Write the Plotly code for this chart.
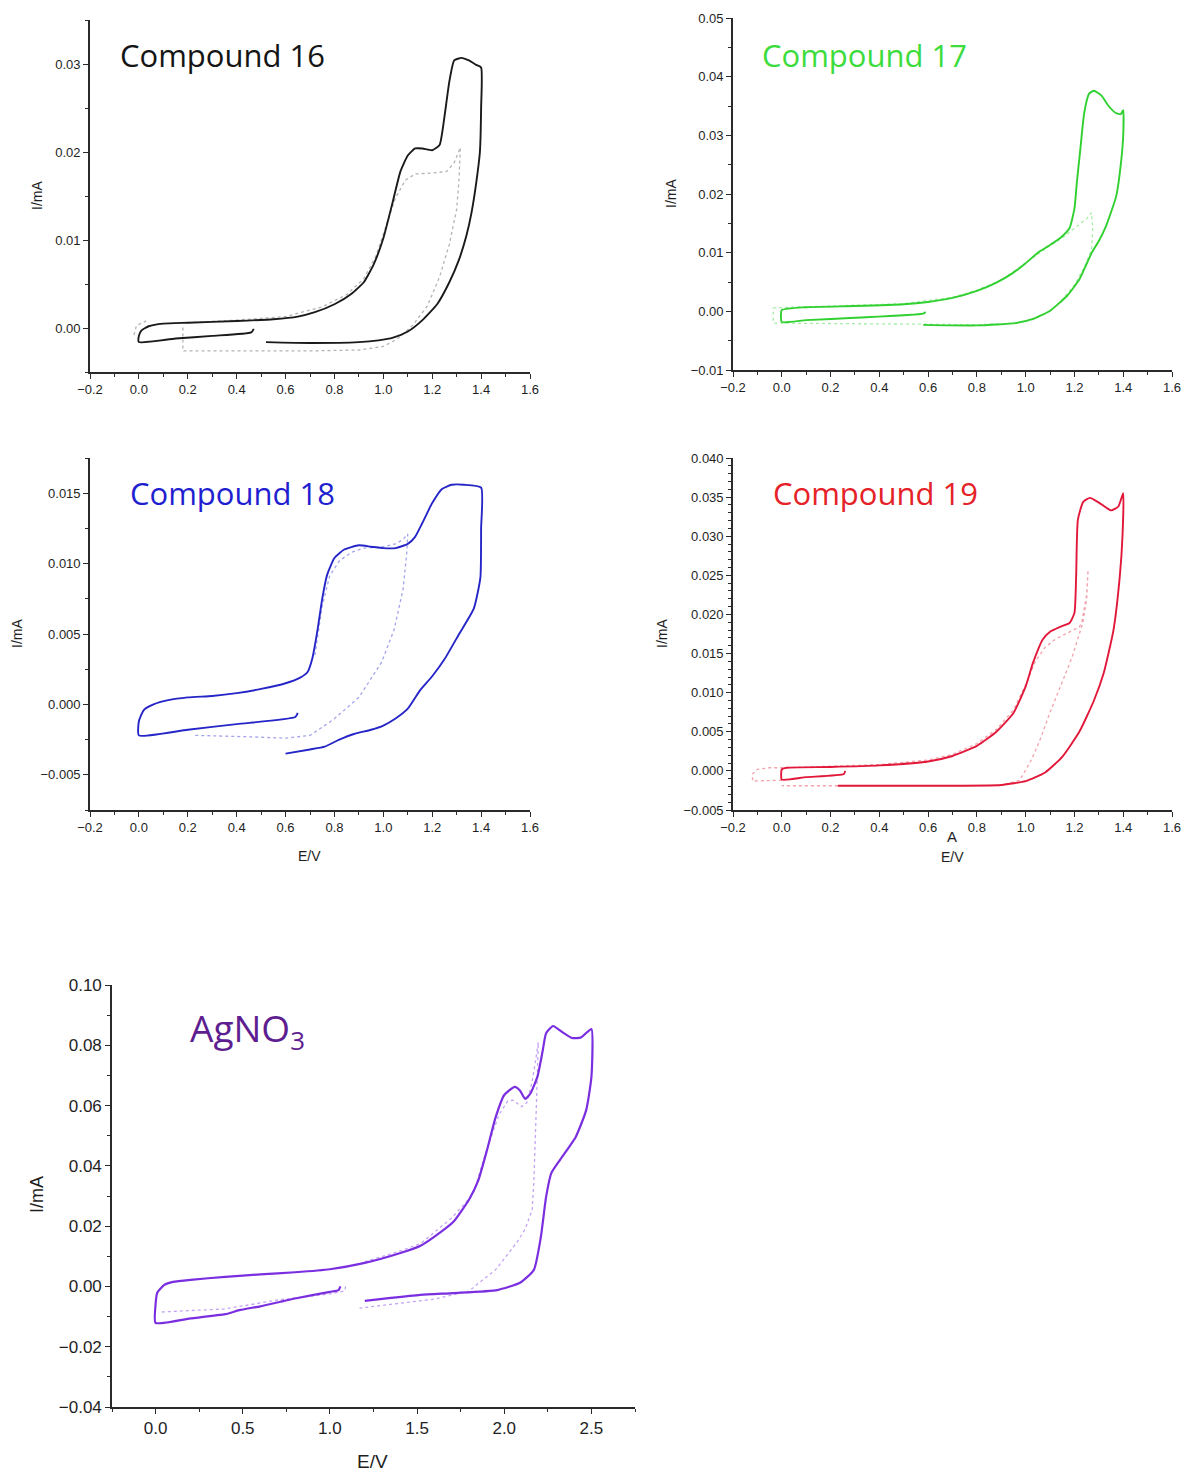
import plotly.graph_objects as go

W, H = 1185, 1472

# ---------------- data (E / V, I / mA) ----------------
# Compound 16
c16_solid_E = [0.47, 0.46, 0.3, 0.15, 0.0, 0.0, 0.01, 0.04, 0.1, 0.2, 0.4, 0.55, 0.65, 0.72, 0.8, 0.87, 0.92, 0.96, 1.0, 1.04, 1.07, 1.1, 1.13, 1.16, 1.2, 1.23, 1.25, 1.27, 1.29, 1.32, 1.35, 1.38, 1.40, 1.40, 1.395, 1.38, 1.36, 1.34, 1.31, 1.27, 1.22, 1.16, 1.1, 1.04, 0.98, 0.9, 0.7, 0.52]
c16_solid_I = [-0.0001, -0.0005, -0.0009, -0.0012, -0.0016, -0.0009, -0.0003, 0.0002, 0.0005, 0.0006, 0.0008, 0.001, 0.0013, 0.0018, 0.0027, 0.0039, 0.0052, 0.0072, 0.0102, 0.0145, 0.0178, 0.0196, 0.0204, 0.0204, 0.0202, 0.0208, 0.024, 0.028, 0.0304, 0.0307, 0.0304, 0.0299, 0.0296, 0.025, 0.02, 0.0165, 0.013, 0.0105, 0.0078, 0.0052, 0.0027, 0.0009, -0.0004, -0.0011, -0.0014, -0.0016, -0.0017, -0.0016]
c16_dot_E = [-0.02, -0.01, 0.03, None, 0.2, 0.4, 0.6, 0.75, 0.85, 0.92, 0.97, 1.01, 1.05, 1.09, 1.13, 1.2, 1.26, 1.29, 1.315, 1.31, 1.3, 1.27, 1.23, 1.18, 1.12, 1.06, 1.0, 0.9, 0.7, 0.4, 0.18, 0.18]
c16_dot_I = [-0.0008, 0.0003, 0.0008, None, 0.0006, 0.0009, 0.0013, 0.0024, 0.0038, 0.0056, 0.0082, 0.0115, 0.0148, 0.0168, 0.0175, 0.0176, 0.0178, 0.0188, 0.0205, 0.017, 0.0135, 0.0095, 0.0058, 0.0025, 0.0003, -0.0012, -0.0021, -0.0025, -0.0026, -0.0026, -0.0026, 0.0001]

# Compound 17
c17_solid_E = [0.59, 0.58, 0.3, 0.1, 0.0, 0.0, 0.1, 0.3, 0.5, 0.6, 0.7, 0.8, 0.88, 0.95, 1.0, 1.05, 1.1, 1.15, 1.18, 1.2, 1.21, 1.225, 1.24, 1.26, 1.28, 1.31, 1.34, 1.37, 1.39, 1.40, 1.40, 1.39, 1.371, 1.329, 1.3, 1.271, 1.221, 1.171, 1.1, 1.03, 0.96, 0.8, 0.58]
c17_solid_I = [-0.0001, -0.0004, -0.0011, -0.0015, -0.0018, 0.0002, 0.0007, 0.0009, 0.0012, 0.0016, 0.0023, 0.0035, 0.0049, 0.0066, 0.0082, 0.01, 0.0113, 0.0128, 0.0142, 0.0175, 0.022, 0.028, 0.0338, 0.0371, 0.0376, 0.0368, 0.035, 0.0338, 0.0336, 0.0343, 0.03, 0.025, 0.0196, 0.0145, 0.012, 0.01, 0.0055, 0.0027, 0.0001, -0.0013, -0.002, -0.0024, -0.0023]
c17_dot_E = [-0.035, 0.1, 0.3, 0.5, 0.7, 0.8, 0.9, 1.0, 1.1, 1.15, 1.2, 1.25, 1.27, 1.275, 1.27, 1.24, 1.2, 1.15, 1.1, 1.03, 0.96, 0.8, 0.6, 0.3, 0.0, -0.035, -0.035]
c17_dot_I = [0.0006, 0.0008, 0.001, 0.0013, 0.0024, 0.0036, 0.0053, 0.0083, 0.0112, 0.0125, 0.0142, 0.0158, 0.0168, 0.014, 0.0105, 0.0075, 0.0045, 0.002, 0.0, -0.0014, -0.002, -0.0023, -0.0022, -0.0021, -0.002, -0.002, 0.0006]

# Compound 18
c18_solid_E = [0.65, 0.64, 0.4, 0.2, 0.0, 0.0, 0.02, 0.06, 0.12, 0.2, 0.3, 0.4, 0.5, 0.6, 0.66, 0.69, 0.71, 0.73, 0.75, 0.77, 0.8, 0.84, 0.9, 0.95, 1.0, 1.05, 1.1, 1.13, 1.16, 1.2, 1.24, 1.28, 1.33, 1.4, 1.4, 1.397, 1.37, 1.31, 1.25, 1.2, 1.15, 1.1, 1.05, 1.0, 0.95, 0.88, 0.82, 0.76, 0.7, 0.6]
c18_solid_I = [-0.0006, -0.0009, -0.0014, -0.0018, -0.0022, -0.0012, -0.0004, 0.0, 0.0003, 0.0005, 0.0006, 0.0008, 0.0011, 0.0015, 0.0019, 0.0023, 0.0033, 0.0052, 0.0075, 0.0092, 0.0104, 0.011, 0.0113, 0.0112, 0.0111, 0.0111, 0.0114, 0.0119, 0.0129, 0.0143, 0.0153, 0.0156, 0.0156, 0.0154, 0.0125, 0.009, 0.0068, 0.005, 0.0032, 0.002, 0.001, -0.0003, -0.001, -0.0015, -0.0018, -0.0021, -0.0025, -0.003, -0.0032, -0.0035]
c18_dot_E = [0.72, 0.75, 0.78, 0.82, 0.87, 0.92, 1.0, 1.05, 1.08, 1.1, 1.096, 1.081, 1.044, 0.993, 0.9, 0.794, 0.7, 0.6, 0.45, 0.23]
c18_dot_I = [0.0035, 0.007, 0.0091, 0.0102, 0.0108, 0.0111, 0.0112, 0.0114, 0.0117, 0.0121, 0.0108, 0.0082, 0.0053, 0.003, 0.0005, -0.0011, -0.0022, -0.0024, -0.0023, -0.0022]

# Compound 19
c19_solid_E = [0.26, 0.255, 0.1, 0.0, 0.0, 0.02, 0.2, 0.4, 0.6, 0.7, 0.8, 0.88, 0.95, 1.0, 1.03, 1.07, 1.1, 1.14, 1.18, 1.2, 1.207, 1.214, 1.236, 1.264, 1.3, 1.35, 1.38, 1.40, 1.397, 1.386, 1.36, 1.32, 1.28, 1.22, 1.15, 1.08, 1.0, 0.9, 0.6, 0.23]
c19_solid_I = [0.0, -0.0004, -0.0008, -0.0011, 0.0002, 0.0004, 0.0005, 0.0007, 0.0012, 0.0019, 0.0032, 0.005, 0.0074, 0.0108, 0.0138, 0.0168, 0.0178, 0.0184, 0.0189, 0.0202, 0.0249, 0.0321, 0.0344, 0.0349, 0.0343, 0.0333, 0.0338, 0.0355, 0.030, 0.0249, 0.018, 0.0125, 0.009, 0.005, 0.0018, -0.0002, -0.0013, -0.0018, -0.0019, -0.0019]
c19_dot_E = [0.23, 0.0, None, 0.0, -0.12, -0.12, -0.1, -0.05, 0.0, 0.2, 0.4, 0.6, 0.7, 0.8, 0.88, 0.95, 1.0, 1.04, 1.08, 1.12, 1.17, 1.22, 1.23, 1.25, 1.256, 1.25, 1.235, 1.22, 1.19, 1.153, 1.1, 1.058, 1.02, 0.976, 0.9]
c19_dot_I = [-0.0019, -0.0019, None, -0.0012, -0.0013, -0.0004, 0.0002, 0.0004, 0.0004, 0.0006, 0.0008, 0.0014, 0.0021, 0.0035, 0.0053, 0.0078, 0.011, 0.014, 0.0158, 0.0168, 0.0176, 0.0184, 0.019, 0.0225, 0.0257, 0.022, 0.019, 0.0175, 0.0145, 0.0116, 0.0075, 0.0039, 0.0012, -0.0012, -0.0018]

# AgNO3
ag_solid_E = [1.06, 1.05, 1.0, 0.8, 0.715, 0.6, 0.486, 0.4, 0.2, 0.0, 0.0, 0.01, 0.05, 0.1, 0.2, 0.4, 0.6, 0.8, 1.0, 1.2, 1.4, 1.52, 1.6, 1.71, 1.8, 1.85, 1.9, 1.95, 2.0, 2.06, 2.09, 2.12, 2.15, 2.19, 2.22, 2.24, 2.28, 2.33, 2.39, 2.44, 2.5, 2.5, 2.47, 2.41, 2.32, 2.27, 2.24, 2.21, 2.17, 2.09, 1.96, 1.71, 1.52, 1.35, 1.2]
ag_solid_I = [0.0, -0.0012, -0.0018, -0.004, -0.0051, -0.0066, -0.0078, -0.0092, -0.0106, -0.0121, -0.006, -0.002, 0.0005, 0.0015, 0.0022, 0.0032, 0.004, 0.0047, 0.0057, 0.0078, 0.011, 0.0135, 0.0165, 0.0215, 0.029, 0.035, 0.045, 0.056, 0.0635, 0.0662, 0.065, 0.0622, 0.064, 0.0695, 0.078, 0.084, 0.0864, 0.0845, 0.0824, 0.0826, 0.0854, 0.0695, 0.0585, 0.0496, 0.042, 0.0376, 0.0297, 0.0164, 0.0055, 0.0012, -0.0012, -0.0022, -0.0028, -0.0038, -0.0048]
ag_dot_E = [1.09, 1.085, 1.0, 0.8, 0.7, 0.55, 0.39, 0.2, 0.03, None, 1.2, 1.4, 1.52, 1.7, 1.82, 1.9, 1.97, 2.02, 2.05, 2.1, 2.13, 2.16, 2.18, 2.195, 2.19, 2.18, 2.17, 2.16, 2.12, 2.07, 2.01, 1.95, 1.84, 1.8, 1.6, 1.4, 1.17]
ag_dot_I = [0.0, -0.0015, -0.0025, -0.0038, -0.0045, -0.006, -0.0075, -0.008, -0.0085, None, 0.0082, 0.0117, 0.0142, 0.0228, 0.0305, 0.0455, 0.057, 0.0615, 0.0618, 0.0596, 0.061, 0.068, 0.075, 0.081, 0.07, 0.05, 0.035, 0.0254, 0.019, 0.0144, 0.0098, 0.0055, 0.0005, -0.0015, -0.0042, -0.0055, -0.0072]

titles = ["Compound 16", "Compound 17", "Compound 18", "Compound 19", "AgNO<sub>3</sub>"]
title_colors = ["#151515", "#3ddc3d", "#1f1fd0", "#e52228", "#5e1e90"]
solid_colors = ["#1a1a1a", "#2fd02f", "#2626c8", "#e2183a", "#7a2ee0"]
dot_colors = ["#b4b4b4", "#a6eea6", "#a4a4ec", "#f2a2ac", "#c4a4f2"]

# ---------------- layout geometry (pixels) ----------------
# (x_left, x_right, y_top, y_bottom)
boxes = [(90, 530, 20, 372), (733, 1172, 18, 370), (90, 530, 458, 810),
         (733, 1172, 458, 810), (112, 635, 985, 1407)]
xranges = [[-0.2, 1.6]] * 4 + [[-0.25, 2.75]]
yranges = [[-0.005, 0.035], [-0.01, 0.05], [-0.0075, 0.0175], [-0.005, 0.040], [-0.04, 0.10]]
ydticks = [0.01, 0.01, 0.005, 0.005, 0.02]
yminor = [0.005, 0.005, 0.0025, 0.001, 0.01]
yfmt = [".2f", ".2f", ".3f", ".3f", ".2f"]
xdticks = [0.2] * 4 + [0.5]
xminor = [0.1] * 4 + [0.25]

series = [
    (c16_solid_E, c16_solid_I, c16_dot_E, c16_dot_I),
    (c17_solid_E, c17_solid_I, c17_dot_E, c17_dot_I),
    (c18_solid_E, c18_solid_I, c18_dot_E, c18_dot_I),
    (c19_solid_E, c19_solid_I, c19_dot_E, c19_dot_I),
    (ag_solid_E, ag_solid_I, ag_dot_E, ag_dot_I),
]

fig = go.Figure()
axis_color = "#2a2a2a"

for i, (sE, sI, dE, dI) in enumerate(series):
    n = "" if i == 0 else str(i + 1)
    xa, ya = "x" + n, "y" + n
    big = i == 4
    fig.add_trace(go.Scatter(x=dE, y=dI, xaxis=xa, yaxis=ya, mode="lines",
                             line=dict(color=dot_colors[i], width=1.3, dash="dot"),
                             showlegend=False, connectgaps=False))
    fig.add_trace(go.Scatter(x=sE, y=sI, xaxis=xa, yaxis=ya, mode="lines",
                             line=dict(color=solid_colors[i], width=2.2 if big else 1.9,
                                       shape="spline", smoothing=0.5),
                             showlegend=False))
    x0, x1, yt, yb = boxes[i]
    tickfont = dict(family="Liberation Sans, Arial", size=17 if big else 13, color="#1e1e1e")
    xaxis = dict(domain=[x0 / W, x1 / W], range=xranges[i], anchor=ya, automargin=False,
                 showline=True, linecolor=axis_color, linewidth=1.6,
                 showgrid=False, zeroline=False, ticks="outside", ticklen=5,
                 tickwidth=1.3, tickcolor=axis_color, dtick=xdticks[i], tick0=0,
                 tickformat=".1f", tickfont=tickfont,
                 minor=dict(ticks="outside", ticklen=3, dtick=xminor[i], tick0=0,
                            tickcolor=axis_color, showgrid=False))
    yaxis = dict(domain=[1 - yb / H, 1 - yt / H], range=yranges[i], anchor=xa, automargin=False,
                 showline=True, linecolor=axis_color, linewidth=1.6,
                 showgrid=False, zeroline=False, ticks="outside", ticklen=5,
                 tickwidth=1.3, tickcolor=axis_color, dtick=ydticks[i], tick0=0,
                 tickformat=yfmt[i], tickfont=tickfont,
                 minor=dict(ticks="outside", ticklen=3, dtick=yminor[i], tick0=0,
                            tickcolor=axis_color, showgrid=False))
    fig.update_layout({"xaxis" + n: xaxis, "yaxis" + n: yaxis})

annotations = []
title_pos = [(222, 55), (864, 55), (232, 493), (875, 493), (247, 1030)]
for i, t in enumerate(titles):
    annotations.append(dict(text=t, x=title_pos[i][0] / W, y=1 - title_pos[i][1] / H,
                            xref="paper", yref="paper", xanchor="center", yanchor="middle",
                            showarrow=False,
                            font=dict(family="Open Sans", size=37 if i == 4 else 31,
                                      color=title_colors[i])))

ylabels = [(37, 196, 14), (671, 193, 14), (17, 634, 14), (662, 634, 14), (37, 1195, 18)]
for (x, y, s) in ylabels:
    annotations.append(dict(text="I/mA", x=x / W, y=1 - y / H, xref="paper", yref="paper",
                            xanchor="center", yanchor="middle", textangle=-90, showarrow=False,
                            font=dict(family="Liberation Sans, Arial", size=s, color="#1e1e1e")))
xlabels = [(309, 856, 14), (952, 857, 14), (373, 1461, 19)]
for (x, y, s) in xlabels:
    annotations.append(dict(text="E/V", x=x / W, y=1 - y / H, xref="paper", yref="paper",
                            xanchor="center", yanchor="middle", showarrow=False,
                            font=dict(family="Liberation Sans, Arial", size=s, color="#1e1e1e")))
annotations.append(dict(text="A", x=952 / W, y=1 - 836 / H, xref="paper", yref="paper",
                        xanchor="center", yanchor="middle", showarrow=False,
                        font=dict(family="Liberation Sans, Arial", size=15, color="#1e1e1e")))

fig.update_layout(template="none", width=W, height=H, autosize=False,
                  margin=dict(l=0, r=0, t=0, b=0, pad=0, autoexpand=False),
                  paper_bgcolor="white", plot_bgcolor="white",
                  annotations=annotations)

fig.write_html("out.html")
